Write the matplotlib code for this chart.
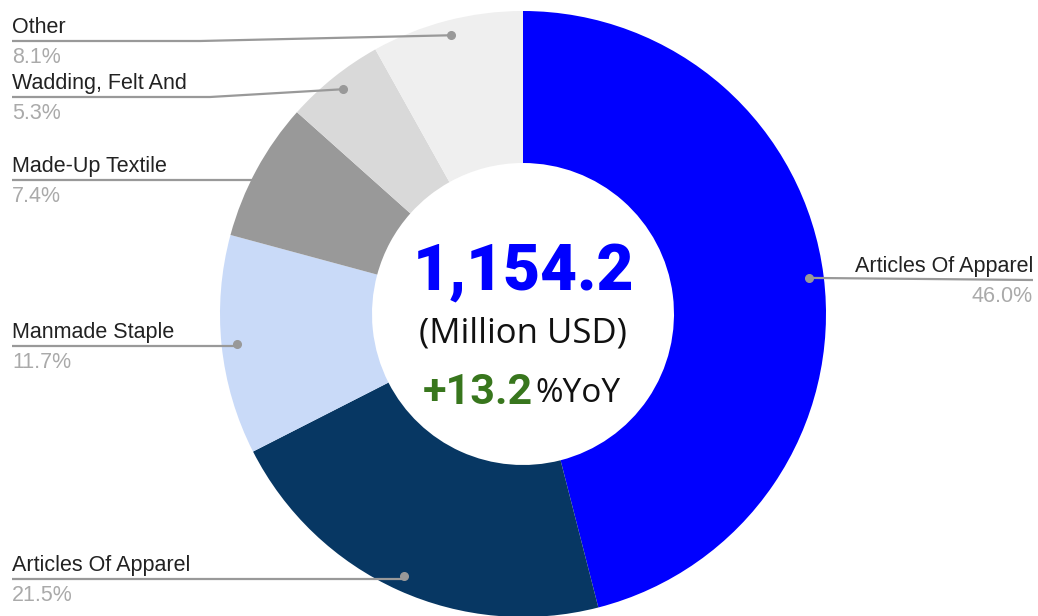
import numpy as np
import matplotlib
matplotlib.use("Agg")
import matplotlib.pyplot as plt

categories = ["Articles Of Apparel", "Articles Of Apparel", "Manmade Staple",
              "Made-Up Textile", "Wadding, Felt And", "Other"]
shares = [46.0, 21.5, 11.7, 7.4, 5.3, 8.1]
pct_labels = ["46.0%", "21.5%", "11.7%", "7.4%", "5.3%", "8.1%"]
colors = ["#0000ff", "#073763", "#c9daf8", "#999999", "#d9d9d9", "#efefef"]
total_value = "1,154.2"
unit_text = "(Million USD)"
yoy_value = "+13.2"
yoy_suffix = "%YoY"

W, H = 1038, 616
fig = plt.figure(figsize=(W / 100, H / 100), dpi=100)
ax = fig.add_axes([0, 0, 1, 1])

cx, cy, R, ring = 523, 314, 303, 152
wedges, _ = ax.pie(shares, colors=colors, startangle=-90, counterclock=True,
                   radius=R, center=(cx, cy),
                   wedgeprops=dict(width=ring, linewidth=0), frame=True)
ax.set_xlim(0, W)
ax.set_ylim(H, 0)
ax.set_aspect("equal")
ax.axis("off")

# label layout (line y in pixels, side)
line_y = [280, 579, 346, 180, 97, 41]
side = ["right", "left", "left", "left", "left", "left"]
bend_x = [None, None, None, None, 210, 200]
lab_font = dict(fontsize=15.5, family="Liberation Sans")

for i, w in enumerate(wedges):
    ang = np.deg2rad((w.theta1 + w.theta2) / 2)
    dx = cx + 288 * np.cos(ang)
    dy = cy + 288 * np.sin(ang)
    ly = line_y[i]
    if side[i] == "right":
        xs, ys = [dx, 1033], [dy, ly]
        tx, ha = 1033, "right"
    else:
        bx = bend_x[i] if bend_x[i] is not None else dx
        xs, ys = [12, bx, dx], [ly, ly, dy]
        tx, ha = 12, "left"
    ax.plot(xs, ys, color="#999999", lw=1.6, solid_capstyle="butt", zorder=3)
    ax.plot([dx], [dy], "o", color="#999999", ms=5.5, zorder=4)
    ax.text(tx, ly - 8, categories[i], ha=ha, va="baseline",
            color="#222222", **lab_font)
    ax.text(tx, ly + 22, pct_labels[i], ha=ha, va="baseline",
            color="#aaaaaa", **lab_font)

# centre text
ax.text(cx + 0, 272, total_value, ha="center", va="center", fontsize=46,
        fontweight="heavy", color="#0000ff", family="Roboto")
ax.text(cx, 334, unit_text, ha="center", va="center", fontsize=25,
        color="#111111", family="Open Sans")
ax.text(cx + 10, 392, yoy_value, ha="right", va="center", fontsize=31,
        fontweight="bold", color="#38761d", family="Roboto")
ax.text(cx + 12, 394, yoy_suffix, ha="left", va="center", fontsize=24,
        color="#111111", family="Open Sans")

fig.savefig("out.png", dpi=100)
